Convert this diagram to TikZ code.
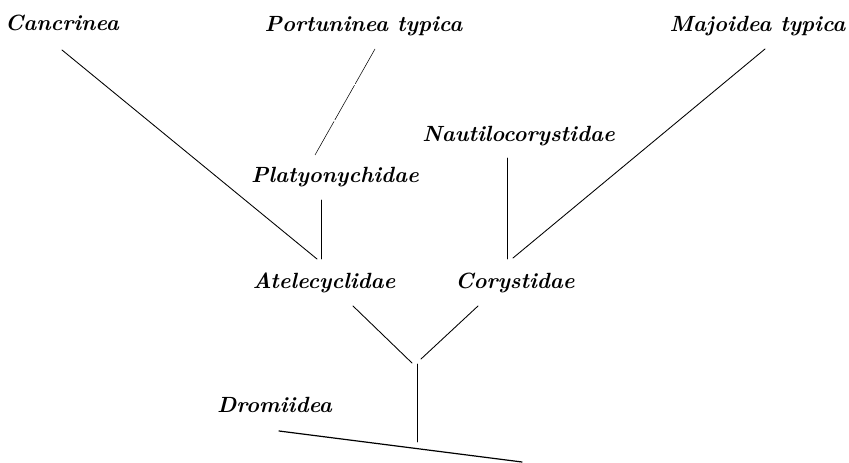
\documentclass[tikz,border=0pt]{standalone}
\usepackage{tikz}
\usetikzlibrary{calc}

\begin{document}
\begin{tikzpicture}[x=0.75pt,y=0.75pt,yscale=-1,xscale=1,
        taxon/.style={anchor=base,inner sep=0pt,font=\fontsize{16.5}{19}\selectfont\bfseries\itshape},
        branch/.style={line width=0.65pt,line cap=round},
        faint/.style={line width=0.4pt,dash pattern={on 30pt off 1.2pt}}]
        \useasboundingbox (0,0) rectangle (849,463);

        % Text Node
        \node [taxon] (cancr) at (62,31) {Cancrinea};
        % Text Node
        \node [taxon] (portu) at (363.5,32) {Portuninea typica};
        % Text Node
        \node [taxon] (majo) at (757.5,32) {Majoidea typica};
        % Text Node
        \node [taxon] (nauti) at (518.5,142) {Nautilocorystidae};
        % Text Node
        \node [taxon] (platy) at (335,183) {Platyonychidae};
        % Text Node
        \node [taxon] (atel) at (324,288) {Atelecyclidae};
        % Text Node
        \node [taxon] (cory) at (515,288) {Corystidae};
        % Text Node
        \node [taxon] (drom) at (274.5,412) {Dromiidea};

        \coordinate (fork) at (417,362);
        \coordinate (root) at (417,442);
        \coordinate (dend) at (522,462);

        %Straight Lines
        \draw [branch] ($(cancr.base)+(0,19)$) -- ($(atel.base)+(-7,-29)$) ;
        %Straight Lines
        \draw [faint] ($(portu.base)+(11.5,17)$) -- ($(platy.base)+(-20,-28)$) ;
        %Straight Lines
        \draw [branch] ($(platy.base)+(-14,17)$) -- ($(atel.base)+(-3,-29)$) ;
        %Straight Lines
        \draw [branch] ($(nauti.base)+(-11.5,16)$) -- ($(cory.base)+(-8,-29)$) ;
        %Straight Lines
        \draw [branch] ($(majo.base)+(7.5,17)$) -- ($(cory.base)+(-2,-30)$) ;
        %Straight Lines
        \draw [branch] ($(atel.base)+(29,18)$) -- ($(fork)+(-5,1)$) ;
        %Straight Lines
        \draw [branch] ($(cory.base)+(-37,18)$) -- ($(fork)+(4,-3)$) ;
        %Straight Lines
        \draw [branch] ($(fork)+(0,2)$) -- (root) ;
        %Straight Lines
        \draw [branch,line width=0.9pt] ($(drom.base)+(4.5,19)$) -- (dend) ;

\end{tikzpicture}
\end{document}
